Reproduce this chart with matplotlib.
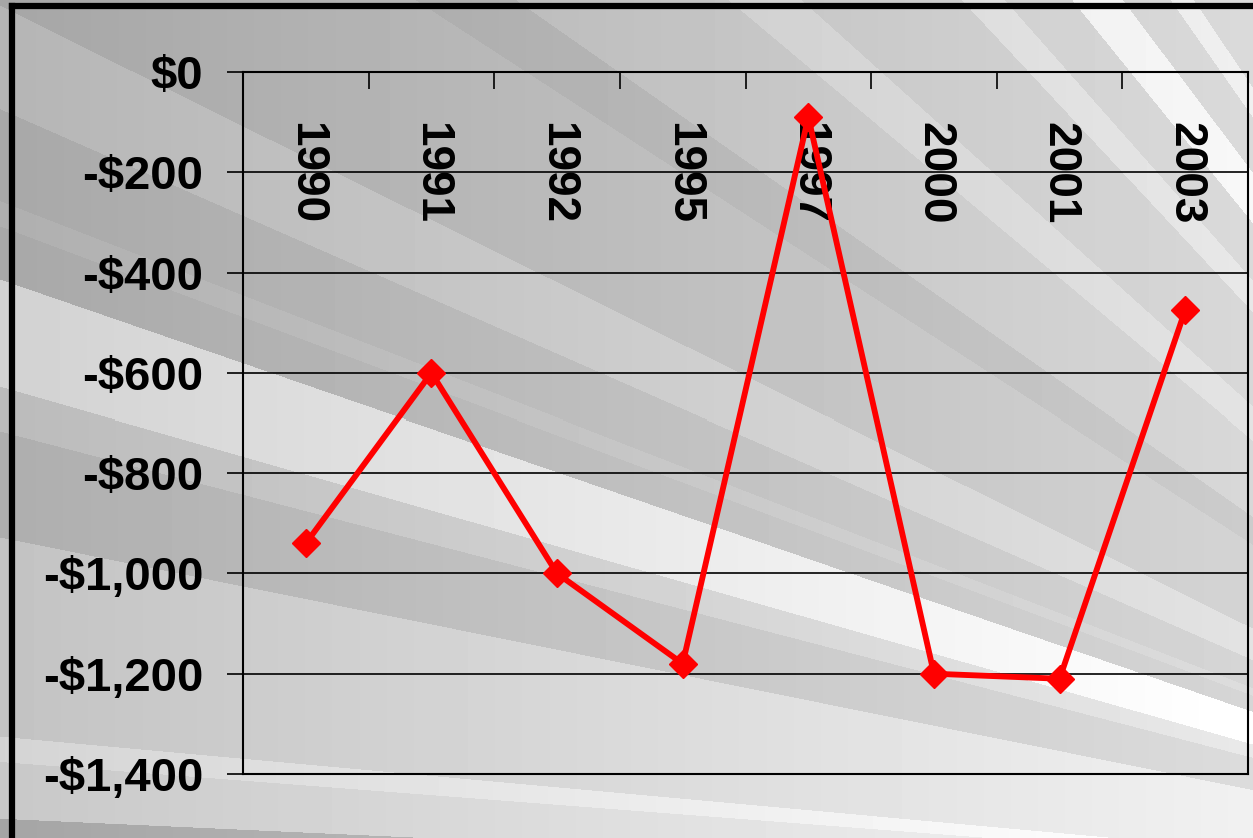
import numpy as np
import matplotlib
matplotlib.use("agg")
import matplotlib.pyplot as plt
from matplotlib.ticker import FuncFormatter
from matplotlib.lines import Line2D

# data
years = ["1990", "1991", "1992", "1995", "1997", "2000", "2001", "2003"]
values = [-940, -600, -1000, -1180, -90, -1200, -1210, -475]
y_ticks = [0, -200, -400, -600, -800, -1000, -1200, -1400]

W, H = 1253, 838
plt.rcParams["font.family"] = ["Liberation Sans", "DejaVu Sans"]
plt.rcParams["font.weight"] = "bold"

fig = plt.figure(figsize=(W / 100, H / 100), dpi=100)

# background: grey streaks radiating from a point off the lower right corner
yy, xx = np.mgrid[0:H, 0:W]
ang = np.degrees(np.arctan2(900.0 - yy, 1800.0 - xx))
edges = [0, 2.6, 4.4, 5.2, 11.4, 14.6, 15.9, 19.0, 20.5, 21.2, 23.7, 26.4,
         33, 35, 40, 42, 47, 48.5, 51, 53, 55, 56, 90]
greys = [165, 200, 212, 195, 174, 187, 210, 168, 175, 168, 181, 166,
         158, 170, 182, 170, 186, 172, 202, 172, 194, 172]
idx = np.clip(np.digitize(ang, edges) - 1, 0, len(greys) - 1)
bg = np.array(greys, dtype=float)[idx] + 46 * xx / W
bg = np.clip(bg, 0, 255)

bax = fig.add_axes([0, 0, 1, 1], zorder=-1)
bax.imshow(bg, cmap="gray", vmin=0, vmax=255, aspect="auto", interpolation="nearest")
bax.axis("off")

# frame (left and top only visible)
fig.add_artist(Line2D([12 / W, 12 / W], [0, 1 - 6 / H], color="black", lw=4.5,
                      transform=fig.transFigure, solid_capstyle="projecting"))
fig.add_artist(Line2D([12 / W, 1], [1 - 6 / H, 1 - 6 / H], color="black", lw=4.5,
                      transform=fig.transFigure, solid_capstyle="projecting"))

ax = fig.add_axes([243 / W, 1 - 774 / H, (1248 - 243) / W, (774 - 72) / H])
ax.set_facecolor("none")

x = np.arange(len(years))
ax.plot(x, values, color="#ff0000", lw=4.2, marker="D", ms=14, mec="#ff0000",
        zorder=5, clip_on=False)

ax.set_xlim(-0.5, len(years) - 0.5)
ax.set_ylim(-1400, 0)
ax.set_yticks(y_ticks)
ax.yaxis.set_major_formatter(FuncFormatter(
    lambda v, p: "$0" if v == 0 else "-${:,.0f}".format(abs(v))))
ax.tick_params(axis="y", direction="out", length=11.5, width=1.2, pad=17,
               labelsize=34, colors="black")
ax.yaxis.grid(True, color="black", lw=1.2)
ax.set_axisbelow(True)

ax.xaxis.tick_top()
ax.set_xticks(np.arange(-0.5, len(years), 1))
ax.set_xticklabels([])
ax.tick_params(axis="x", direction="in", length=12, width=1.2, top=True, bottom=False)

for i, yr in enumerate(years):
    ax.annotate(yr, xy=(i, 0), xytext=(0, -36), textcoords="offset points",
                rotation=-90, ha="center", va="top", fontsize=33,
                fontweight="bold", zorder=3)

for s in ax.spines.values():
    s.set_color("black")
    s.set_linewidth(1.5)

fig.savefig("out.png", dpi=100)
